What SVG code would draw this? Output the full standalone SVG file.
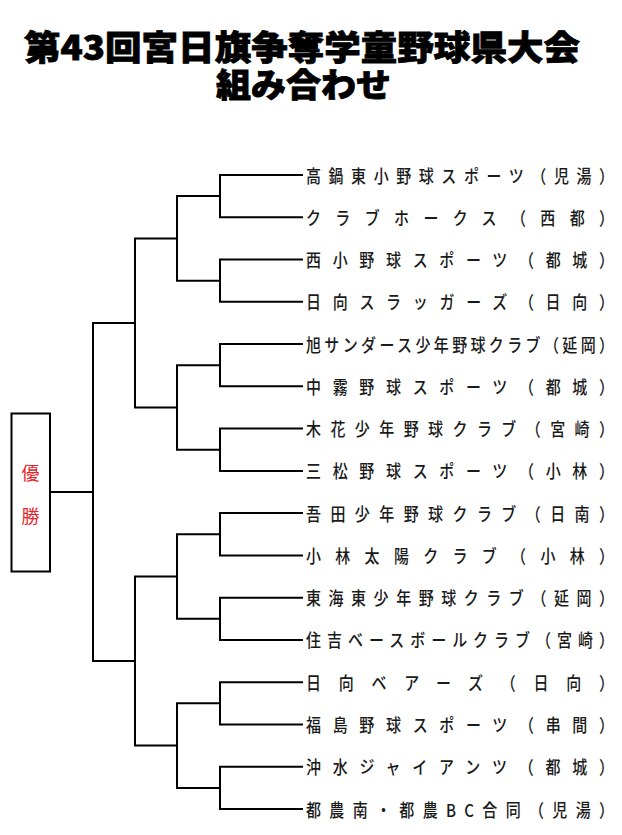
<svg xmlns="http://www.w3.org/2000/svg" width="622" height="835" viewBox="0 0 622 835">
<style>
.title{font-family:"Noto Sans CJK JP","Noto Sans",sans-serif;font-weight:900;fill:#000;stroke:#000;stroke-width:0.8}
.team{font-family:"Noto Sans CJK JP","Noto Sans",sans-serif;font-size:15px;font-weight:500;fill:#1a1a1a}
.win{font-family:"Noto Sans CJK JP","Noto Sans",sans-serif;font-size:18px;fill:#e8232a;text-anchor:middle}
.ln{fill:none;stroke:#000;stroke-width:2;stroke-linejoin:miter}
</style>
<rect x="0" y="0" width="622" height="835" fill="#fff"/>
<g id="title">
<text class="title"><tspan x="24" y="59.5" font-size="34" textLength="556" lengthAdjust="spacingAndGlyphs">第43回宮日旗争奪学童野球県大会</tspan><tspan x="216" y="96.5" font-size="33" textLength="175" lengthAdjust="spacingAndGlyphs">組み合わせ</tspan></text>
</g>
<g id="connectors" class="ln">
<path d="M303 175 H220 V217.3 H303"/>
<path d="M303 259.5 H220 V301.8 H303"/>
<path d="M303 344.1 H220 V386.3 H303"/>
<path d="M303 428.6 H220 V470.9 H303"/>
<path d="M303 513.1 H220 V555.4 H303"/>
<path d="M303 597.7 H220 V639.9 H303"/>
<path d="M303 682.2 H220 V724.5 H303"/>
<path d="M303 766.7 H220 V809 H303"/>
<path d="M220 196.1 H177 V280.7 H220"/>
<path d="M220 365.2 H177 V449.7 H220"/>
<path d="M220 534.3 H177 V618.8 H220"/>
<path d="M220 703.3 H177 V787.9 H220"/>
<path d="M177 238.4 H135 V407.5 H177"/>
<path d="M177 576.5 H135 V745.6 H177"/>
<path d="M135 323 H93 V661.1 H135"/>
<path d="M93 492 H50"/>
</g>
<g id="winner">
<rect x="11.5" y="413.5" width="38.5" height="158" fill="#fff" stroke="#000" stroke-width="2"/>
<text class="win" x="30.5" y="480">優</text>
<text class="win" x="30.5" y="522.5">勝</text>
</g>
<g id="teams">
<g id="t1" transform="translate(306 175) scale(1 1.18)"><text class="team" x="0" y="6.4" textLength="308" lengthAdjust="spacing">高鍋東小野球スポーツ（児湯）</text></g>
<g id="t2" transform="translate(306 217.3) scale(1 1.18)"><text class="team" x="0" y="6.4" textLength="308" lengthAdjust="spacing">クラブホークス（西都）</text></g>
<g id="t3" transform="translate(306 259.5) scale(1 1.18)"><text class="team" x="0" y="6.4" textLength="308" lengthAdjust="spacing">西小野球スポーツ（都城）</text></g>
<g id="t4" transform="translate(306 301.8) scale(1 1.18)"><text class="team" x="0" y="6.4" textLength="308" lengthAdjust="spacing">日向スラッガーズ（日向）</text></g>
<g id="t5" transform="translate(306 344.1) scale(1 1.18)"><text class="team" x="0" y="6.4" textLength="308" lengthAdjust="spacing">旭サンダース少年野球クラブ（延岡）</text></g>
<g id="t6" transform="translate(306 386.3) scale(1 1.18)"><text class="team" x="0" y="6.4" textLength="308" lengthAdjust="spacing">中霧野球スポーツ（都城）</text></g>
<g id="t7" transform="translate(306 428.6) scale(1 1.18)"><text class="team" x="0" y="6.4" textLength="308" lengthAdjust="spacing">木花少年野球クラブ（宮崎）</text></g>
<g id="t8" transform="translate(306 470.9) scale(1 1.18)"><text class="team" x="0" y="6.4" textLength="308" lengthAdjust="spacing">三松野球スポーツ（小林）</text></g>
<g id="t9" transform="translate(306 513.1) scale(1 1.18)"><text class="team" x="0" y="6.4" textLength="308" lengthAdjust="spacing">吾田少年野球クラブ（日南）</text></g>
<g id="t10" transform="translate(306 555.4) scale(1 1.18)"><text class="team" x="0" y="6.4" textLength="308" lengthAdjust="spacing">小林太陽クラブ（小林）</text></g>
<g id="t11" transform="translate(306 597.7) scale(1 1.18)"><text class="team" x="0" y="6.4" textLength="308" lengthAdjust="spacing">東海東少年野球クラブ（延岡）</text></g>
<g id="t12" transform="translate(306 639.9) scale(1 1.18)"><text class="team" x="0" y="6.4" textLength="308" lengthAdjust="spacing">住吉ベースボールクラブ（宮崎）</text></g>
<g id="t13" transform="translate(306 682.2) scale(1 1.18)"><text class="team" x="0" y="6.4" textLength="308" lengthAdjust="spacing">日向ベアーズ（日向）</text></g>
<g id="t14" transform="translate(306 724.5) scale(1 1.18)"><text class="team" x="0" y="6.4" textLength="308" lengthAdjust="spacing">福島野球スポーツ（串間）</text></g>
<g id="t15" transform="translate(306 766.7) scale(1 1.18)"><text class="team" x="0" y="6.4" textLength="308" lengthAdjust="spacing">沖水ジャイアンツ（都城）</text></g>
<g id="t16" transform="translate(306 809) scale(1 1.18)"><text class="team" x="0" y="6.4" textLength="308" lengthAdjust="spacing">都農南・都農BC合同（児湯）</text></g>
</g>
</svg>
